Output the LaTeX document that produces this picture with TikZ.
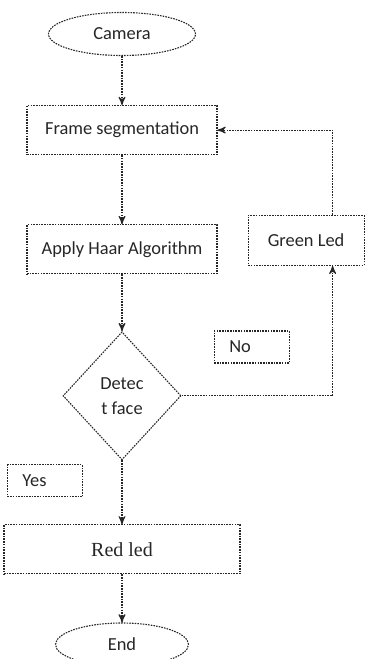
\documentclass[tikz,border=0pt]{standalone}
\usepackage{fontspec}
\setmainfont{Carlito}
\newfontfamily\serifled{Liberation Serif}
\usepackage{tikz}
\usetikzlibrary{positioning, arrows, shapes.geometric}

\begin{document}
\begin{tikzpicture}[x=0.5pt, y=-0.5pt, >=stealth',
        every node/.style={text=black!75, font=\fontsize{9.2}{11}\selectfont},
        term/.style={ellipse, draw, dotline, minimum height=21.5pt, inner sep=0pt},
        box/.style={rectangle, draw, dotline, minimum width=95pt, minimum height=24.5pt, inner sep=2pt},
        decision/.style={diamond, draw, dotline, minimum width=59pt, minimum height=64pt, inner sep=0pt, align=center},
        answer/.style={rectangle, draw, dotline, minimum height=16pt, text width=22.5pt, inner xsep=7.5pt, align=left},
        dotline/.style={line width=0.55pt, dash pattern=on 0.8pt off 0.55pt, black!85},
        flow/.style={dotline}]
        \useasboundingbox (0,0) rectangle (365,659);

        \node[term, minimum width=73.5pt](cam) at (122,34){Camera};
        \node[box](frame)[below = 24.5pt of cam]{Frame segmentation};
        \node[box](haar)[below = 34.5pt of frame]{Apply Haar Algorithm};
        \node[decision](detect)[below = 28.5pt of haar]{Detec\\[1.5pt]t face};
        \node[box, minimum width=118pt, font=\serifled\fontsize{10}{12}\selectfont](red)[below = 32pt of detect]{Red led};
        \node[term, minimum width=66.5pt](fin)[below = 24pt of red]{End};
        \node[box, minimum width=58pt, minimum height=25pt](green)[right = 15pt of haar, yshift=4.5pt]{Green Led};
        \node[answer](no)[above right = 0pt and 31pt of detect.north east]{No};
        \node[answer](yes)[below left = 2pt and 19.5pt of detect.south]{Yes};

        \path[->, draw, flow]
        (cam) edge (frame)
        (frame) edge (haar)
        (haar) edge (detect)
        (detect) edge (red)
        (red) edge (fin);
        \draw[->, flow] (detect.east) -| ([xshift=13.25pt]green.south);
        \draw[->, flow] ([xshift=13.25pt]green.north) |- (frame.east);
    \end{tikzpicture}
\end{document}
